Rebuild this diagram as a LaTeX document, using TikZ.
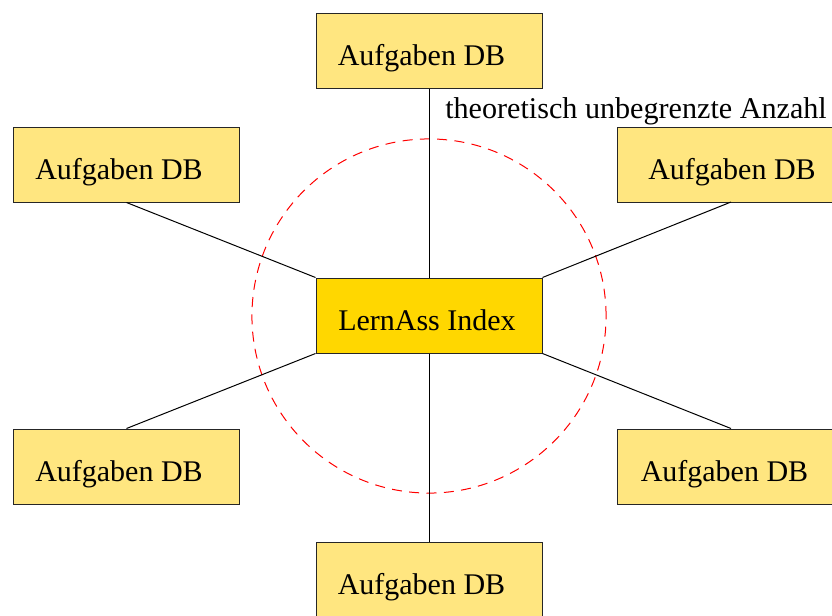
\documentclass[tikz,border=0pt]{standalone}
\usepackage{fontspec}
\setmainfont{Liberation Serif}
\definecolor{dbfill}{HTML}{FFE680}
\definecolor{idxfill}{HTML}{FFD700}
\definecolor{ringred}{HTML}{FF0000}
\begin{document}
\begin{tikzpicture}[x=0.75pt,y=-0.75pt,
  basebox/.style={draw=black!85,line width=0.75pt,minimum width=169.5pt,minimum height=56.25pt,inner sep=0pt,
    text height=23pt,text depth=0pt,font=\fontsize{22.5}{26}\selectfont},
  dbbox/.style={basebox,fill=dbfill,execute at end node={\hspace*{11.25pt}}},
  idxbox/.style={basebox,fill=idxfill,execute at end node={\hspace*{3pt}}},
  link/.style={draw=black,line width=0.75pt},
  lbl/.style={font=\fontsize{22.6}{26}\selectfont,inner sep=0pt}]
\clip (0,0) rectangle (832,615);
\fill[white] (0,0) rectangle (832,615);
\draw[ringred,line width=0.75pt,dash pattern=on 7.5pt off 5.5pt] (429,316) circle[radius=132.8pt];
\node[idxbox] (c) at (429,315.5) {LernAss Index};
\node[dbbox] (top) at (429,50.5) {Aufgaben DB};
\node[dbbox] (tl) at (126.5,164.5) {Aufgaben DB};
\node[dbbox,minimum width=183.75pt] (tr) at (739.5,164.5) {Aufgaben DB};
\node[dbbox] (bl) at (126.5,466.5) {Aufgaben DB};
\node[dbbox,minimum width=172.5pt] (br) at (732,466.5) {Aufgaben DB};
\node[dbbox] (bot) at (429,579.5) {Aufgaben DB};
\draw[link] (top.south) -- (c.north);
\draw[link] (tl.south) -- (c.north west);
\draw[link] (731,202) coordinate (trfoot) -- (c.north east);
\draw[link] (bl.north) -- (c.south west);
\draw[link] (731,428.5) coordinate (brfoot) -- (c.south east);
\draw[link] (c.south) -- (bot.north);
\node[lbl,anchor=base west] (note) at (445,118) {theoretisch unbegrenzte Anzahl};
\end{tikzpicture}
\end{document}
